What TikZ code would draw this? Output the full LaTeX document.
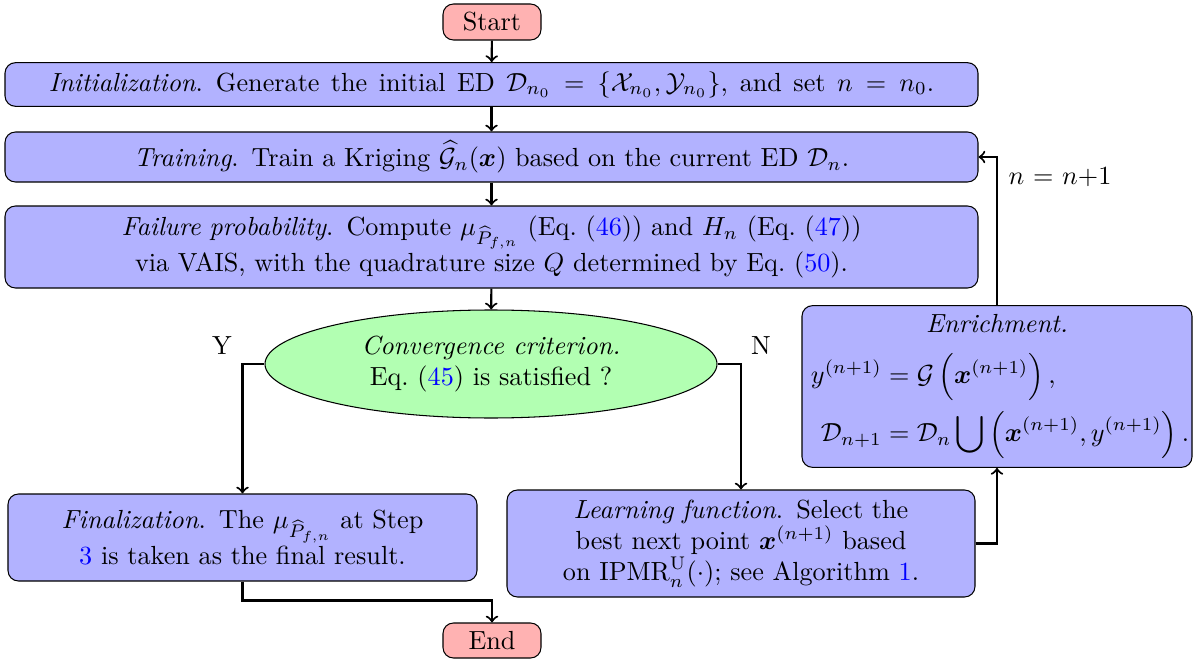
\documentclass[tikz,border=0pt]{standalone}
\usepackage{amsmath,amssymb}
\usetikzlibrary{shapes.geometric}
\newcommand{\lnk}[1]{\textcolor{blue}{#1}}
\newcommand{\weq}{\hspace{5pt}=\hspace{5pt}}
\def\u{0.3817pt}
\begin{document}
\begin{tikzpicture}[x=0.3817pt,y=-0.3817pt,
  box/.style={draw, rounded corners=4pt, fill=blue!30, align=center, inner sep=3.33pt},
  term/.style={draw, rounded corners=4pt, fill=red!30, minimum width=98*\u, minimum height=36*\u, inner sep=0pt},
  decide/.style={draw, ellipse, fill=green!30, align=center, inner sep=0pt, minimum width=452*\u, minimum height=108*\u},
  link/.style={->, thick},
  tag/.style={inner sep=1pt}
]
\useasboundingbox (0,0) rectangle (1198,659);

% terminals
\node[term] (start) at (492,22) {Start};
\node[term, minimum height=35*\u] (stop) at (492,640.5) {End};

% main column
\node[box, text width=364pt, minimum width=973*\u, minimum height=43*\u] (init) at (491.5,84.5)
  {\spaceskip=3.7pt plus 1pt\relax
   \textit{Initialization}. Generate the initial ED $\mathcal{D}_{n_0}$\weq$\{\mathcal{X}_{n_0},\mathcal{Y}_{n_0}\}$, and set $n$\weq$n_0$.};
\node[box, text width=364pt, minimum width=973*\u, minimum height=50*\u] (train) at (491.5,157)
  {\textit{Training}. Train a Kriging $\widehat{\mathcal{G}}_n(\boldsymbol{x})$ based on the current ED $\mathcal{D}_n$.};
\node[box, text width=364pt, minimum width=973*\u, minimum height=82*\u] (fail) at (491.5,247)
  {\textit{Failure probability}. Compute $\mu_{\widehat{P}_{f,n}}$ (Eq.~(\lnk{46})) and $H_n$ (Eq.~(\lnk{47}))\\
   via VAIS, with the quadrature size $Q$ determined by Eq.~(\lnk{50}).};
\node[decide] (conv) at (491,364)
  {\textit{Convergence criterion.}\\ Eq.~(\lnk{45}) is satisfied ?};
\node[tag] (ylab) at (222,346) {Y};
\node[tag] (nlab) at (761,346) {N};

% branches
\node[box, text width=143pt, minimum width=469*\u, minimum height=87*\u] (final) at (242.5,537.5)
  {\textit{Finalization}. The $\mu_{\widehat{P}_{f,n}}$ at Step\\ \lnk{3} is taken as the final result.};
\node[box, text width=143pt, minimum width=468*\u, minimum height=107*\u] (learn) at (741,543.5)
  {\textit{Learning function}. Select the\\ best next point $\boldsymbol{x}^{(n+1)}$ based\\
   on $\mathrm{IPMR}_n^{\mathrm{U}}(\cdot)$; see Algorithm~\lnk{1}.};
\node[box, text width=142pt, minimum width=390*\u, minimum height=157*\u] (enrich) at (997,386.5)
  {\textit{Enrichment.}\\[7pt]
   $\begin{aligned}
     y^{(n+1)} &= \mathcal{G}\left(\boldsymbol{x}^{(n+1)}\right),\\
     \mathcal{D}_{n+1} &= \mathcal{D}_n \bigcup \left(\boldsymbol{x}^{(n+1)}, y^{(n+1)}\right).
   \end{aligned}$};
\node[tag] (upd) at (1060,177) {$n$ = $n$+1};

% connectors
\draw[link] (start) -- (init);
\draw[link] (init) -- (train);
\draw[link] (train) -- (fail);
\draw[link] (fail) -- (conv);
\draw[link] (conv.west) -| (final.north);
\draw[link] (conv.east) -| (learn.north);
\draw[link] (learn.east) -| (enrich.south);
\draw[link] (enrich.north) |- (train.east);
\draw[link] (final.south) -- ++(0,19) -| (stop.north);
\end{tikzpicture}
\end{document}
